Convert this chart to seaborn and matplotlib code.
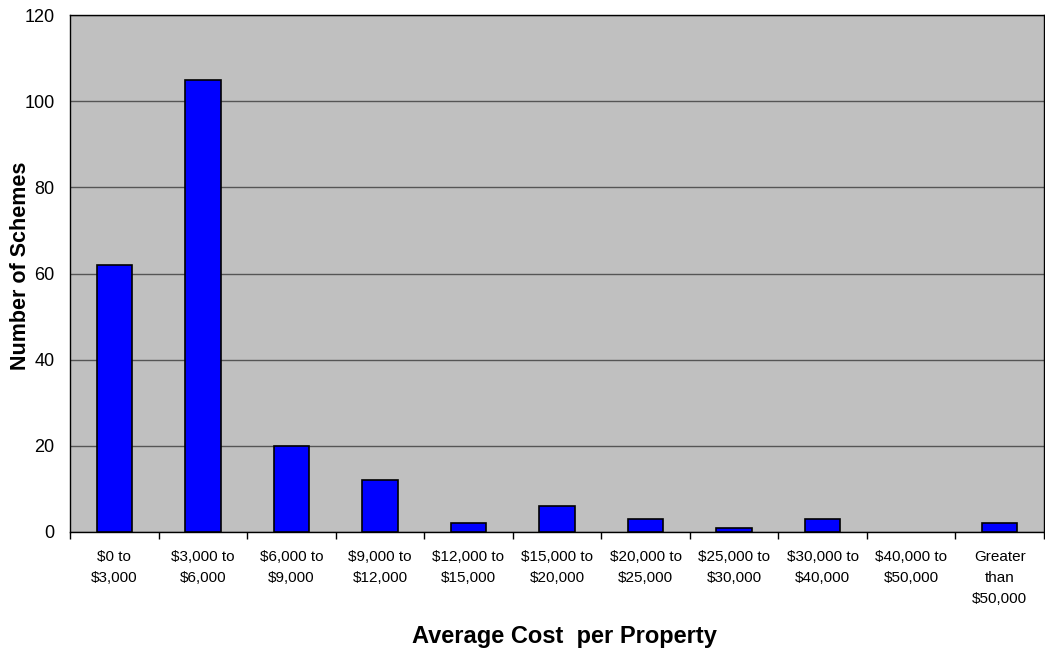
import matplotlib
matplotlib.use("Agg")
import matplotlib.pyplot as plt
import seaborn as sns
import pandas as pd
import numpy as np
from matplotlib.ticker import FixedLocator

# Distribution of schemes by average cost per property
categories = [
    "$0 to\n$3,000", "$3,000 to\n$6,000", "$6,000 to\n$9,000", "$9,000 to\n$12,000",
    "$12,000 to\n$15,000", "$15,000 to\n$20,000", "$20,000 to\n$25,000",
    "$25,000 to\n$30,000", "$30,000 to\n$40,000", "$40,000 to\n$50,000",
    "Greater\nthan\n$50,000",
]
counts = [62, 105, 20, 12, 2, 6, 3, 1, 3, 0, 2]
y_ticks = [0, 20, 40, 60, 80, 100, 120]

df = pd.DataFrame({"band": categories, "schemes": counts})

sns.set_style("white")
plt.rcParams["font.family"] = ["Liberation Sans", "DejaVu Sans"]
plt.rcParams["text.color"] = "black"
plt.rcParams["axes.labelcolor"] = "black"
plt.rcParams["xtick.color"] = "black"
plt.rcParams["ytick.color"] = "black"

fig = plt.figure(figsize=(10.45, 6.52), dpi=100)
ax = fig.add_axes([70 / 1045, 1 - 532 / 652, 974 / 1045, (532 - 15) / 652])
ax.set_facecolor("#C0C0C0")

sns.barplot(data=df, x="band", y="schemes", ax=ax, color="#0000FF",
            saturation=1, width=0.4, edgecolor="black", linewidth=1.2, zorder=3)

# Empty bands draw no outline
for patch, value in zip(ax.patches, counts):
    if value == 0:
        patch.set_edgecolor("none")

ax.set_ylim(0, 120)
ax.set_xlim(-0.5, len(categories) - 0.5)
ax.set_yticks(y_ticks)
ax.yaxis.grid(True, color="#555555", linewidth=1.0, zorder=0)
ax.set_axisbelow(True)

for s in ax.spines.values():
    s.set_color("black")
    s.set_linewidth(1.0)

# Category labels centred, tick marks at the category boundaries
ax.xaxis.set_minor_locator(FixedLocator(np.arange(-0.5, len(categories), 1.0)))
ax.tick_params(axis="x", which="major", length=0, labelsize=11, pad=13)
ax.tick_params(axis="x", which="minor", length=5, width=1, color="black",
               direction="out", bottom=True)
ax.tick_params(axis="y", which="major", length=5, width=1, color="black",
               direction="out", labelsize=13, pad=6)
for lbl in ax.get_xticklabels():
    lbl.set_linespacing(1.62)

ax.set_xlabel("Average Cost  per Property", fontsize=17, fontweight="bold")
ax.set_ylabel("Number of Schemes", fontsize=15.5, fontweight="bold")
ax.xaxis.set_label_coords((564 - 70) / 974, (532 - 643) / 517)
ax.xaxis.label.set_va("baseline")
ax.yaxis.set_label_coords((21 - 70) / 974, (532 - 266) / 517)
ax.yaxis.label.set_va("center")

fig.savefig("out.png", dpi=100, facecolor="white")
